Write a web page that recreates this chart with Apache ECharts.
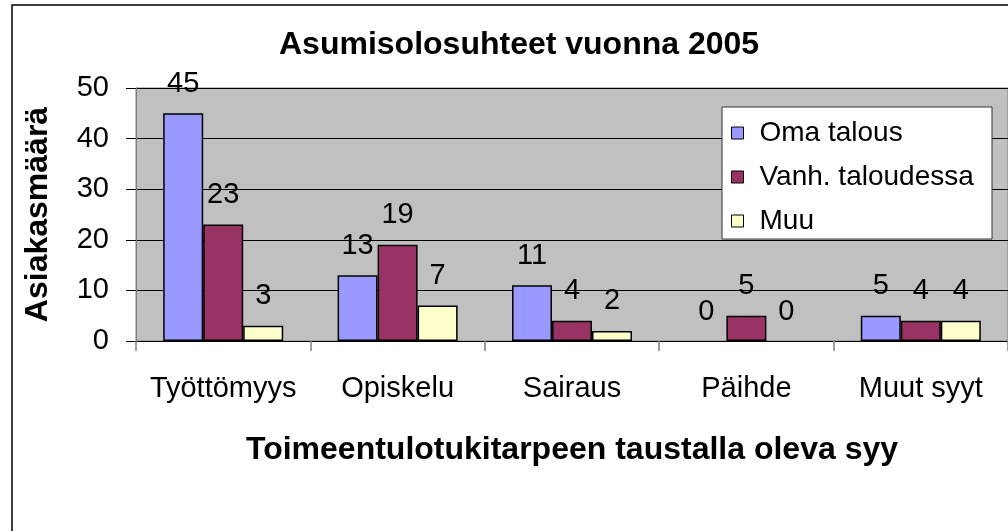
<!DOCTYPE html>
<html>
<head>
<meta charset="utf-8">
<script src="https://cdn.jsdelivr.net/npm/echarts@6/dist/echarts.min.js"></script>
<style>
html,body{margin:0;padding:0;background:#fff;}
#chart{width:1008px;height:531px;}
</style>
</head>
<body>
<div id="chart"></div>
<script>
// data
const categories = ['Työttömyys', 'Opiskelu', 'Sairaus', 'Päihde', 'Muut syyt']
const omaTalous = [45, 13, 11, 0, 5]
const vanhTaloudessa = [23, 19, 4, 5, 4]
const muu = [3, 7, 2, 0, 4]
const seriesNames = ['Oma talous', 'Vanh. taloudessa', 'Muu']
const seriesColors = ['#9999FF', '#993366', '#FFFFCC']

const font = 'Liberation Sans, Arial, sans-serif'
let myChart = echarts.init(document.getElementById('chart'))

function barSeries(name, data, color){
    return {
        name: name,
        type: 'bar',
        // zero bars get no outline, like the original
        data: data.map(v => v === 0 ? { value: v, itemStyle: { borderWidth: 0 } } : v),
        barWidth: 40,
        barGap: '0%',
        itemStyle: {
            color: color,
            borderColor: '#000',
            borderWidth: 1.5
        },
        label: {
            show: true,
            position: 'top',
            distance: 15,
            color: '#000',
            fontFamily: font,
            fontSize: 29
        }
    }
}

let option = {
    animation: false,
    backgroundColor: '#fff',
    title: {
        text: 'Asumisolosuhteet vuonna 2005',
        left: 274,
        top: 24,
        textStyle: { fontFamily: font, fontSize: 32, fontWeight: 'bold', color: '#000' }
    },
    graphic: [
        { type: 'rect', shape: { x: 12, y: 5, width: 1100, height: 700 }, style: { fill: 'none', stroke: '#000', lineWidth: 1.5 }, z: 0 },
        { type: 'rect', shape: { x: 722, y: 107, width: 270, height: 132 }, style: { fill: '#fff', stroke: '#333', lineWidth: 1 }, z: 5 }
    ],
    legend: {
        data: seriesNames,
        orient: 'vertical',
        left: 722,
        top: 109,
        padding: [9, 10, 4, 9],
        itemGap: 14,
        itemWidth: 12,
        itemHeight: 12,
        z: 10,
        icon: 'rect',
        itemStyle: { borderColor: '#000', borderWidth: 1 },
        textStyle: { fontFamily: font, fontSize: 28, color: '#000', lineHeight: 30, padding: [0, 0, 0, 11] }
    },
    grid: {
        left: 136,
        top: 88,
        right: -3,
        bottom: 190,
        show: true,
        backgroundColor: '#C0C0C0',
        borderColor: '#808080',
        borderWidth: 1
    },
    xAxis: {
        type: 'category',
        data: categories,
        name: 'Toimeentulotukitarpeen taustalla oleva syy',
        nameLocation: 'middle',
        nameGap: 93,
        nameTextStyle: { fontFamily: font, fontSize: 32, fontWeight: 'bold', color: '#000' },
        axisLine: { lineStyle: { color: '#000', width: 1 } },
        axisTick: { show: true, length: 10, lineStyle: { color: '#808080', width: 1.5 } },
        axisLabel: { interval: 0, margin: 33, fontFamily: font, fontSize: 29, color: '#000' }
    },
    yAxis: {
        type: 'value',
        min: 0,
        max: 50,
        interval: 10,
        name: 'Asiakasmäärä',
        nameLocation: 'middle',
        nameGap: 82,
        nameRotate: 90,
        nameTextStyle: { fontFamily: font, fontSize: 32, fontWeight: 'bold', color: '#000' },
        axisLine: { show: true, lineStyle: { color: '#808080', width: 1 } },
        axisTick: { show: true, length: 10, lineStyle: { color: '#000', width: 1 } },
        axisLabel: { margin: 27, fontFamily: font, fontSize: 29, color: '#000' },
        splitLine: { show: true, lineStyle: { color: '#000', width: 1 } }
    },
    series: [
        barSeries(seriesNames[0], omaTalous, seriesColors[0]),
        barSeries(seriesNames[1], vanhTaloudessa, seriesColors[1]),
        barSeries(seriesNames[2], muu, seriesColors[2])
    ]
}
myChart.setOption(option)
</script>
</body>
</html>
